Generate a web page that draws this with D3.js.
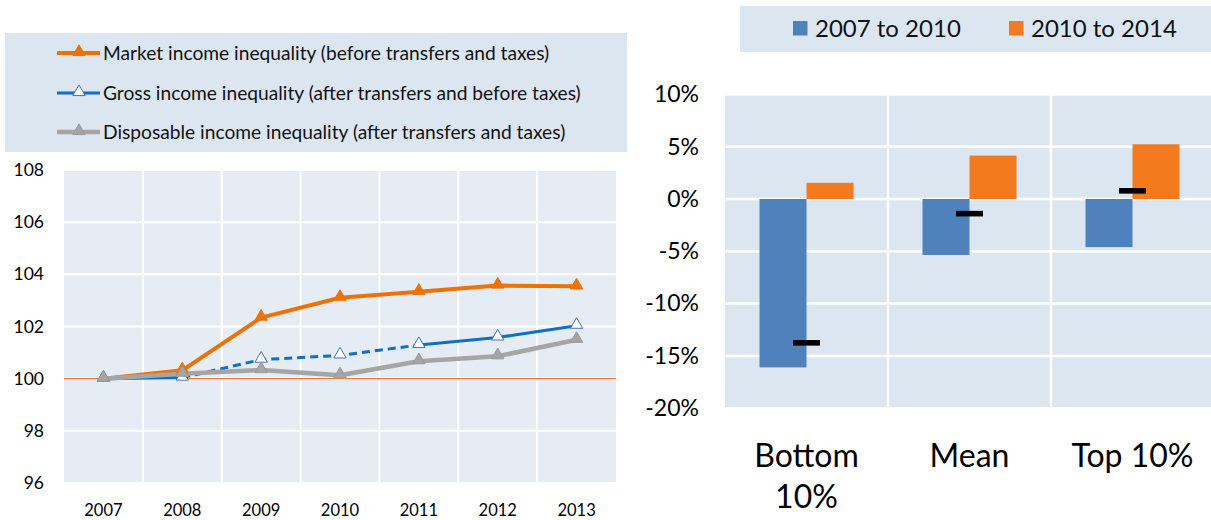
<!DOCTYPE html>
<html>
<head>
<meta charset="utf-8">
<script src="https://cdn.jsdelivr.net/npm/d3@7"></script>
<style>
  body { margin: 0; background: #fff; }
  svg { display: block; font-family: Lato, "Open Sans", sans-serif; }
</style>
</head>
<body>
<div id="chart"></div>
<script>
// ---- data: left panel (index, 2007 = 100)
var years = ["2007", "2008", "2009", "2010", "2011", "2012", "2013"];
var marketIneq = [100, 100.32, 102.34, 103.10, 103.33, 103.57, 103.54];
var grossIneq = [100, 100.04, 100.73, 100.89, 101.29, 101.58, 102.03];
var dispIneq = [100, 100.19, 100.33, 100.13, 100.67, 100.86, 101.49];
var grossDashedYears = ["2008", "2009", "2010", "2011"];
var leftTicks = [96, 98, 100, 102, 104, 106, 108];
var leftLegend = ["Market income inequality (before transfers and taxes)",
                  "Gross income inequality (after transfers and before taxes)",
                  "Disposable income inequality (after transfers and taxes)"];

// ---- data: right panel (% change)
var groups = ["Bottom 10%", "Mean", "Top 10%"];
var periods = ["2007 to 2010", "2010 to 2014"];
var change0710 = [-16.1, -5.35, -4.6];
var change1014 = [1.55, 4.15, 5.23];
var changeTotal = [-13.75, -1.4, 0.78];
var rightTicks = [-20, -15, -10, -5, 0, 5, 10];

var W = 1211, H = 520;
var svg = d3.select("#chart").append("svg").attr("width", W).attr("height", H);

// ================= LEFT PANEL =================
var orange = "#ee7203", blue = "#0f6fc6", grey = "#a5a5a5";

// legend box
svg.append("rect").attr("x", 5).attr("y", 33).attr("width", 622).attr("height", 119)
  .attr("fill", "#dce6f1");

var l_x = d3.scaleBand().domain(years).range([64, 616]);
var l_y = d3.scaleLinear().domain([96, 108]).range([483, 170]);

svg.append("rect").attr("x", 64).attr("y", 170).attr("width", 552).attr("height", 313)
  .attr("fill", "#e6ecf4");

// gridlines
svg.append("g").selectAll("line").data(leftTicks).enter().append("line")
  .attr("x1", 64).attr("x2", 616)
  .attr("y1", d => l_y(d)).attr("y2", d => l_y(d))
  .attr("stroke", "#fff").attr("stroke-width", 2);
svg.append("g").selectAll("line").data(years.slice(1)).enter().append("line")
  .attr("x1", d => l_x(d)).attr("x2", d => l_x(d))
  .attr("y1", 170).attr("y2", 483)
  .attr("stroke", "#fff").attr("stroke-width", 2);

// reference line at 100
svg.append("line").attr("x1", 64).attr("x2", 616)
  .attr("y1", l_y(100)).attr("y2", l_y(100))
  .attr("stroke", "#ed7d31").attr("stroke-width", 1.3);

// axes (text only)
var yAxisL = svg.append("g").attr("transform", "translate(50,0)")
  .call(d3.axisLeft(l_y).tickValues(leftTicks).tickSize(0).tickPadding(6));
yAxisL.select(".domain").remove();
yAxisL.selectAll("text").attr("font-size", 17.5).attr("fill", "#000").attr("font-family", "Lato");

var xAxisL = svg.append("g").attr("transform", "translate(0,502)")
  .call(d3.axisBottom(l_x).tickSize(0).tickPadding(2));
xAxisL.select(".domain").remove();
xAxisL.selectAll("text").attr("font-size", 16.5).attr("fill", "#000").attr("font-family", "Lato");

var cx = d => l_x(d) + l_x.bandwidth() / 2;
var tri = d3.symbol().type(d3.symbolTriangle).size(66);

function seriesPts(vals) { return years.map((y, i) => ({ year: y, v: vals[i] })); }

var lineGen = d3.line().x(d => cx(d.year)).y(d => l_y(d.v));

// market
var mkt = seriesPts(marketIneq);
svg.append("path").datum(mkt).attr("d", lineGen)
  .attr("fill", "none").attr("stroke", orange).attr("stroke-width", 4).attr("stroke-linejoin", "round");

// gross: solid, dashed between 2008 and 2011, solid after
var grs = seriesPts(grossIneq);
var dashStart = years.indexOf(grossDashedYears[0]);
var dashEnd = years.indexOf(grossDashedYears[grossDashedYears.length - 1]);
svg.append("path").datum(grs.slice(0, dashStart + 1)).attr("d", lineGen)
  .attr("fill", "none").attr("stroke", blue).attr("stroke-width", 3);
svg.append("path").datum(grs.slice(dashStart, dashEnd + 1)).attr("d", lineGen)
  .attr("fill", "none").attr("stroke", blue).attr("stroke-width", 3).attr("stroke-dasharray", "8,5");
svg.append("path").datum(grs.slice(dashEnd)).attr("d", lineGen)
  .attr("fill", "none").attr("stroke", blue).attr("stroke-width", 3);

// disposable
var dsp = seriesPts(dispIneq);
svg.append("path").datum(dsp).attr("d", lineGen)
  .attr("fill", "none").attr("stroke", grey).attr("stroke-width", 4.5).attr("stroke-linejoin", "round");

// markers
function markers(data, fill, stroke) {
  svg.append("g").selectAll("path").data(data).enter().append("path")
    .attr("d", tri)
    .attr("transform", d => `translate(${cx(d.year)},${l_y(d.v) - 1})`)
    .attr("fill", fill).attr("stroke", stroke).attr("stroke-width", 1);
}
markers(mkt, orange, orange);
markers(grs, "#fff", "#4472c4");
markers(dsp, grey, "#9a9a9a");

// legend items
var legStyles = [
  { color: orange, fill: orange, stroke: orange, w: 4 },
  { color: blue, fill: "#fff", stroke: "#4472c4", w: 3 },
  { color: grey, fill: grey, stroke: "#9a9a9a", w: 4.5 }
];
var legRows = [53, 93, 132];
leftLegend.forEach(function (t, i) {
  var s = legStyles[i];
  var g = svg.append("g").attr("transform", `translate(0,${legRows[i]})`);
  g.append("line").attr("x1", 57).attr("x2", 100).attr("y1", 0).attr("y2", 0)
    .attr("stroke", s.color).attr("stroke-width", s.w);
  g.append("path").attr("d", tri).attr("transform", "translate(79,-1)")
    .attr("fill", s.fill).attr("stroke", s.stroke).attr("stroke-width", 1);
  g.append("text").attr("x", 103).attr("y", 0).attr("dy", "0.35em")
    .attr("font-size", 19.2).attr("fill", "#111").text(t);
});

// ================= RIGHT PANEL =================
var cBlue = "#4f81bd", cOrange = "#f47a20";

// legend box
svg.append("rect").attr("x", 740).attr("y", 6).attr("width", 480).attr("height", 46)
  .attr("fill", "#dce6f1");
var legX = [793, 1009];
periods.forEach(function (p, i) {
  svg.append("rect").attr("x", legX[i]).attr("y", 21).attr("width", 14.5).attr("height", 14.5)
    .attr("fill", i === 0 ? cBlue : cOrange);
  svg.append("text").attr("x", legX[i] + 22).attr("y", 29).attr("dy", "0.35em")
    .attr("font-size", 24).attr("fill", "#111").text(p);
});

var r_x = d3.scaleBand().domain(groups).range([725, 1214]);
var r_y = d3.scaleLinear().domain([-20, 10]).range([408.2, 94.4]);
var r_sub = d3.scaleBand().domain(periods).range([34.5, 128.5]);

svg.append("rect").attr("x", 725).attr("y", r_y(10)).attr("width", 489).attr("height", r_y(-20) - r_y(10))
  .attr("fill", "#dce6f1");
svg.append("g").selectAll("line").data(rightTicks).enter().append("line")
  .attr("x1", 725).attr("x2", 1214)
  .attr("y1", d => r_y(d)).attr("y2", d => r_y(d))
  .attr("stroke", "#fff").attr("stroke-width", 2.5);
svg.append("g").selectAll("line").data(groups.slice(1)).enter().append("line")
  .attr("x1", d => r_x(d)).attr("x2", d => r_x(d))
  .attr("y1", r_y(10)).attr("y2", r_y(-20))
  .attr("stroke", "#fff").attr("stroke-width", 2.5);

var yAxisR = svg.append("g").attr("transform", "translate(699,0)")
  .call(d3.axisLeft(r_y).tickValues(rightTicks).tickFormat(d => d + "%").tickSize(0).tickPadding(0));
yAxisR.select(".domain").remove();
yAxisR.selectAll("text").attr("font-size", 23).attr("fill", "#000").attr("font-family", "Lato");

// bars
var barData = [];
groups.forEach(function (g, i) {
  barData.push({ group: g, period: periods[0], v: change0710[i] });
  barData.push({ group: g, period: periods[1], v: change1014[i] });
});
svg.append("g").selectAll("rect").data(barData).enter().append("rect")
  .attr("x", d => r_x(d.group) + r_sub(d.period))
  .attr("width", r_sub.bandwidth())
  .attr("y", d => Math.min(r_y(d.v), r_y(0)))
  .attr("height", d => Math.abs(r_y(d.v) - r_y(0)))
  .attr("fill", d => d.period === periods[0] ? cBlue : cOrange);

// total change markers
svg.append("g").selectAll("rect").data(groups).enter().append("rect")
  .attr("x", d => r_x(d) + r_x.bandwidth() / 2 - 13.5)
  .attr("width", 27)
  .attr("y", (d, i) => r_y(changeTotal[i]) - 2.8)
  .attr("height", 5.6)
  .attr("fill", "#000");

// category labels (wrapped)
var catLines = [["Bottom", "10%"], ["Mean"], ["Top 10%"]];
groups.forEach(function (g, i) {
  var t = svg.append("text").attr("text-anchor", "middle")
    .attr("font-size", 32).attr("fill", "#000");
  catLines[i].forEach(function (ln, j) {
    t.append("tspan").attr("x", r_x(g) + r_x.bandwidth() / 2)
      .attr("y", 456 + j * 41).attr("dy", "0.35em").text(ln);
  });
});
</script>
</body>
</html>
